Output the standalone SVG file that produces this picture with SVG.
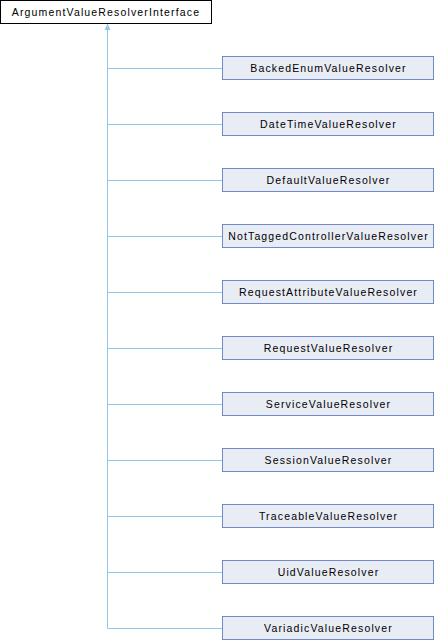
<svg xmlns="http://www.w3.org/2000/svg" width="434" height="640" viewBox="0 0 434 640">
<style>
.base{fill:#ffffff;stroke:#000000;stroke-width:1}
.node{fill:#e8ecf5;stroke:#7388c6;stroke-width:1}
.t{font-family:"Liberation Sans",Arial,sans-serif;font-size:10.5px;letter-spacing:1.15px;fill:#000;text-anchor:middle}
.c{fill:none;stroke:#8fc8e8;stroke-width:1}
</style>
<rect width="434" height="640" fill="#ffffff"/>
<g id="connectors">
<path class="c" d="M107.5,24 V628.5"/>
<path d="M104.5,30 L107.5,24 L110.5,30 Z" fill="#8fc8e8"/>
<path class="c" d="M107.5,68.5 H222 M107.5,124.5 H222 M107.5,180.5 H222 M107.5,236.5 H222 M107.5,292.5 H222 M107.5,348.5 H222 M107.5,404.5 H222 M107.5,460.5 H222 M107.5,516.5 H222 M107.5,572.5 H222 M107.5,628.5 H222"/>
</g>
<g id="n0"><rect class="base" x="0.5" y="0.5" width="211" height="23"/><text class="t" x="106" y="15.5">ArgumentValueResolverInterface</text></g>
<g id="n1"><rect class="node" x="222.5" y="56.5" width="211" height="23"/><text class="t" x="328.5" y="71.5">BackedEnumValueResolver</text></g>
<g id="n2"><rect class="node" x="222.5" y="112.5" width="211" height="23"/><text class="t" x="328.5" y="127.5">DateTimeValueResolver</text></g>
<g id="n3"><rect class="node" x="222.5" y="168.5" width="211" height="23"/><text class="t" x="328.5" y="183.5">DefaultValueResolver</text></g>
<g id="n4"><rect class="node" x="222.5" y="224.5" width="211" height="23"/><text class="t" x="328.5" y="239.5">NotTaggedControllerValueResolver</text></g>
<g id="n5"><rect class="node" x="222.5" y="280.5" width="211" height="23"/><text class="t" x="328.5" y="295.5">RequestAttributeValueResolver</text></g>
<g id="n6"><rect class="node" x="222.5" y="336.5" width="211" height="23"/><text class="t" x="328.5" y="351.5">RequestValueResolver</text></g>
<g id="n7"><rect class="node" x="222.5" y="392.5" width="211" height="23"/><text class="t" x="328.5" y="407.5">ServiceValueResolver</text></g>
<g id="n8"><rect class="node" x="222.5" y="448.5" width="211" height="23"/><text class="t" x="328.5" y="463.5">SessionValueResolver</text></g>
<g id="n9"><rect class="node" x="222.5" y="504.5" width="211" height="23"/><text class="t" x="328.5" y="519.5">TraceableValueResolver</text></g>
<g id="n10"><rect class="node" x="222.5" y="560.5" width="211" height="23"/><text class="t" x="328.5" y="575.5">UidValueResolver</text></g>
<g id="n11"><rect class="node" x="222.5" y="616.5" width="211" height="23"/><text class="t" x="328.5" y="631.5">VariadicValueResolver</text></g>
</svg>
